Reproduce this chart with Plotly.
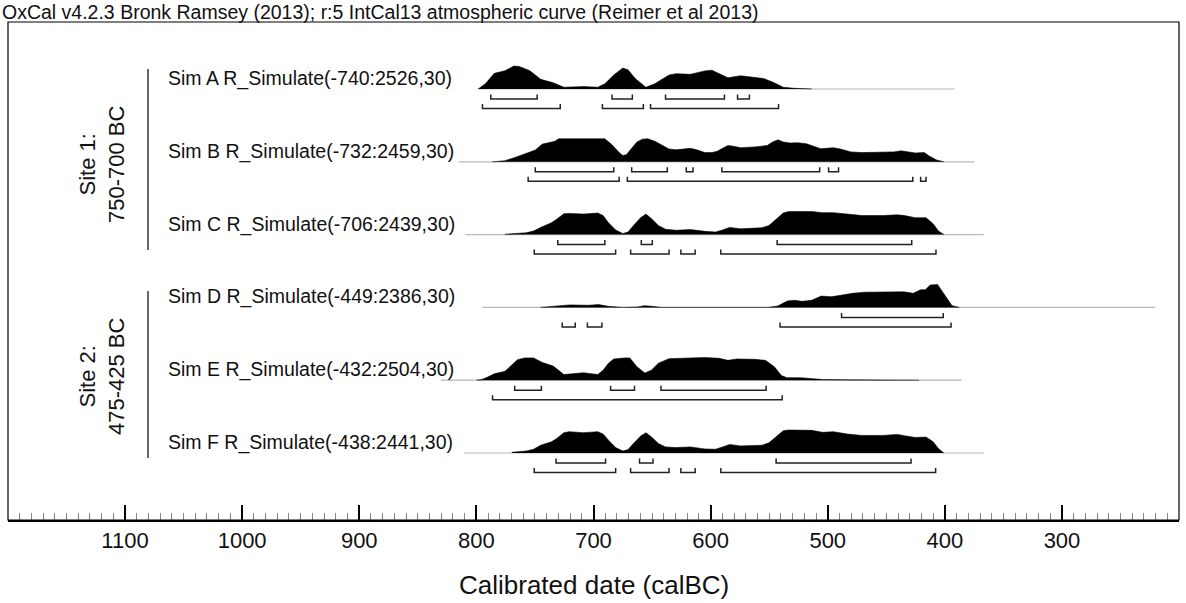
import plotly.graph_objects as go

# ---------------- data (years calBC, relative probability) ----------------
labels = [
    "Sim A R_Simulate(-740:2526,30)",
    "Sim B R_Simulate(-732:2459,30)",
    "Sim C R_Simulate(-706:2439,30)",
    "Sim D R_Simulate(-449:2386,30)",
    "Sim E R_Simulate(-432:2504,30)",
    "Sim F R_Simulate(-438:2441,30)",
]
group_labels = ["Site 1:<br>750-700 BC", "Site 2:<br>475-425 BC"]
title_text = "OxCal v4.2.3 Bronk Ramsey (2013); r:5 IntCal13 atmospheric curve (Reimer et al 2013)"
x_title = "Calibrated date (calBC)"

a_years = [798.4, 792.3, 784.7, 775.6, 768.0, 763.4, 754.3, 745.1, 734.4, 725.3, 717.7, 708.6, 696.4,
           690.3, 682.7, 675.0, 670.5, 664.4, 655.3, 647.7, 635.5, 629.4, 617.2, 605.0, 598.9, 592.8,
           585.2, 574.5, 565.4, 554.7, 547.1, 538.0, 528.8, 519.7, 513.6]
a_prob = [0.0, 0.23, 0.68, 0.79, 1.0, 0.98, 0.79, 0.42, 0.27, 0.076, 0.09, 0.106, 0.076,
          0.227, 0.606, 0.909, 0.833, 0.455, 0.076, 0.227, 0.606, 0.667, 0.636, 0.788, 0.818, 0.682,
          0.485, 0.576, 0.530, 0.455, 0.303, 0.076, 0.03, 0.015, 0.0]
a_r68 = [(787.7, 748.1), (684.2, 666.8), (638.5, 588.2), (577.0, 566.9)]
a_r95 = [(794.8, 728.4), (692.4, 657.4), (651.3, 542.0)]
a_span = (799.0, 391.8)

b_years = [786.2, 775.6, 766.4, 757.3, 749.7, 743.6, 732.9, 729.9, 720.7, 690.3, 684.2, 678.1, 675.0,
           672.0, 667.4, 662.9, 658.3, 653.7, 647.6, 641.5, 635.5, 629.4, 617.2, 611.1, 605.0, 598.9,
           594.3, 589.8, 585.2, 580.6, 574.5, 562.3, 551.7, 547.1, 542.5, 538.0, 531.9, 525.8, 518.2,
           512.1, 506.0, 501.4, 495.3, 489.2, 480.1, 470.9, 452.7, 443.5, 437.4, 432.9, 425.3, 417.6,
           413.1, 407.0, 400.9]
b_prob = [0.0, 0.046, 0.2, 0.354, 0.508, 0.769, 0.892, 1.0, 1.0, 1.0, 0.738, 0.4, 0.277,
          0.308, 0.585, 0.862, 0.985, 1.0, 0.892, 0.738, 0.554, 0.523, 0.585, 0.508, 0.4, 0.4,
          0.462, 0.585, 0.708, 0.677, 0.615, 0.646, 0.708, 0.862, 0.954, 0.862, 0.815, 0.831, 0.785,
          0.677, 0.569, 0.585, 0.615, 0.554, 0.431, 0.4, 0.4, 0.431, 0.477, 0.431, 0.385, 0.4,
          0.246, 0.077, 0.0]
b_r68 = [(749.7, 682.7), (667.4, 637.0), (620.8, 615.0), (590.4, 506.9), (499.3, 490.8)]
b_r95 = [(755.8, 678.1), (671.1, 427.4), (420.7, 416.1)]
b_span = (815.0, 375.0)

c_years = [775.6, 757.3, 751.2, 745.1, 735.9, 731.4, 725.3, 720.7, 708.5, 696.4, 691.8, 687.2, 681.1,
           675.0, 670.5, 665.9, 659.8, 655.2, 650.7, 644.6, 638.5, 629.4, 617.2, 605.0, 595.8, 589.8,
           583.7, 574.5, 556.2, 550.2, 544.1, 538.0, 533.4, 513.6, 504.5, 495.3, 483.2, 470.9, 452.7,
           440.5, 434.4, 425.3, 416.1, 410.0, 405.5, 400.9]
c_prob = [0.016, 0.078, 0.156, 0.3125, 0.516, 0.672, 0.906, 0.922, 0.891, 0.9375, 0.828, 0.516, 0.203,
          0.047, 0.109, 0.391, 0.734, 0.891, 0.703, 0.391, 0.234, 0.1875, 0.219, 0.141, 0.109, 0.203,
          0.3125, 0.25, 0.297, 0.391, 0.672, 0.9375, 1.0, 1.0, 0.953, 0.953, 0.891, 0.828, 0.828,
          0.859, 0.828, 0.734, 0.734, 0.469, 0.156, 0.016]
c_r68 = [(730.5, 690.3), (659.2, 649.8), (543.2, 428.3)]
c_r95 = [(750.6, 681.1), (668.3, 635.5), (625.4, 613.2), (591.3, 407.6)]
c_span = (809.5, 366.8)

d_years = [745.3, 728.8, 720.5, 704.0, 695.7, 687.4, 675.0, 662.6, 656.4, 650.2, 642.0, 551.0, 542.7,
           534.5, 528.3, 522.1, 513.8, 505.5, 497.3, 489.0, 478.7, 468.3, 443.5, 435.3, 427.0, 420.8,
           416.7, 412.5, 406.3, 400.1, 393.9, 387.7]
d_prob = [0.0, 0.062, 0.108, 0.092, 0.123, 0.046, 0.0, 0.015, 0.077, 0.046, 0.0, 0.0, 0.062,
          0.277, 0.308, 0.262, 0.308, 0.492, 0.462, 0.523, 0.615, 0.662, 0.662, 0.677, 0.615, 0.769,
          0.769, 0.969, 1.0, 0.538, 0.077, 0.0]
d_r68 = [(488.2, 401.4)]
d_r95 = [(726.7, 715.6), (705.2, 692.8), (540.7, 394.7)]
d_span = (794.9, 220.3)

e_years = [800.0, 795.4, 790.8, 784.7, 775.6, 769.5, 764.9, 758.8, 751.2, 743.6, 734.4, 725.3, 717.7,
           708.5, 696.4, 691.8, 687.2, 682.7, 673.5, 669.0, 662.9, 656.2, 650.7, 644.6, 635.5, 623.3,
           605.0, 592.8, 585.2, 577.6, 562.3, 553.2, 545.6, 539.5, 534.9, 522.8, 513.6, 504.5, 483.2,
           437.4, 422.2]
e_prob = [0.0, 0.03, 0.123, 0.277, 0.385, 0.662, 0.892, 0.969, 0.969, 0.769, 0.615, 0.246, 0.292,
          0.323, 0.246, 0.431, 0.738, 0.923, 0.969, 0.969, 0.585, 0.308, 0.431, 0.738, 0.938, 0.954,
          0.985, 0.954, 0.862, 0.923, 0.908, 0.862, 0.585, 0.2, 0.108, 0.108, 0.077, 0.03, 0.015,
          0.015, 0.0]
e_r68 = [(767.3, 744.5), (685.4, 665.0), (642.4, 552.6)]
e_r95 = [(786.2, 538.9)]
e_span = (830.4, 385.7)

f_years = [769.5, 757.3, 751.2, 745.1, 735.9, 731.4, 725.3, 720.7, 708.5, 696.4, 691.8, 687.2, 681.1,
           675.0, 670.5, 665.9, 659.8, 655.2, 650.7, 644.6, 638.5, 629.4, 617.2, 605.0, 595.8, 589.8,
           583.7, 574.5, 556.2, 550.2, 544.1, 538.0, 533.4, 513.6, 504.5, 495.3, 483.2, 470.9, 452.7,
           440.5, 434.4, 425.3, 416.1, 410.0, 405.5, 400.9]
f_prob = [0.03, 0.088, 0.162, 0.338, 0.485, 0.632, 0.882, 0.926, 0.882, 0.926, 0.824, 0.559, 0.235,
          0.088, 0.147, 0.412, 0.735, 0.882, 0.706, 0.412, 0.265, 0.235, 0.265, 0.176, 0.162, 0.265,
          0.368, 0.309, 0.338, 0.441, 0.706, 0.971, 1.0, 0.985, 0.897, 0.926, 0.824, 0.765, 0.765,
          0.809, 0.75, 0.676, 0.691, 0.485, 0.191, 0.03]
f_r68 = [(732.0, 689.7), (660.7, 649.2), (544.1, 428.9)]
f_r95 = [(750.6, 681.1), (668.3, 635.5), (625.4, 613.2), (591.3, 407.9)]
f_span = (810.4, 366.8)

major_ticks = [1100, 1000, 900, 800, 700, 600, 500, 400, 300]

# ---------------- geometry / style ----------------
W, H = 1186, 603
ML, MR, MT, MB = 8, 7, 22, 83
PW, PH = W - ML - MR, H - MT - MB
ROW_PX = 72.8          # pixels between rows
BASE0 = 89             # pixel y of first baseline
PEAK = 23 / ROW_PX     # peak height in row units
OFF68, OFF95, TICK = 10 / ROW_PX, 19.5 / ROW_PX, 4.5 / ROW_PX
y_top = -(BASE0 - MT) / ROW_PX
y_bot = (H - MB - BASE0) / ROW_PX
FONT = "Liberation Sans, Arial, sans-serif"

series = [
    (a_years, a_prob, a_r68, a_r95, a_span),
    (b_years, b_prob, b_r68, b_r95, b_span),
    (c_years, c_prob, c_r68, c_r95, c_span),
    (d_years, d_prob, d_r68, d_r95, d_span),
    (e_years, e_prob, e_r68, e_r95, e_span),
    (f_years, f_prob, f_r68, f_r95, f_span),
]

fig = go.Figure()


def bracket_xy(ranges, y0):
    xs, ys = [], []
    for a, b in ranges:
        xs += [a, a, b, b, None]
        ys += [y0 - TICK, y0, y0, y0 - TICK, None]
    return xs, ys


for i, (yrs, prob, r68, r95, span) in enumerate(series):
    fig.add_trace(go.Scatter(x=list(span), y=[i, i], mode="lines",
                             line=dict(color="#b8b8b8", width=1.2),
                             hoverinfo="skip", showlegend=False))
    xs = [yrs[0]] + list(yrs) + [yrs[-1]]
    ys = [i] + [i - p * PEAK for p in prob] + [i]
    fig.add_trace(go.Scatter(x=xs, y=ys, mode="lines", fill="toself",
                             fillcolor="black", line=dict(color="black", width=0.6),
                             hoverinfo="skip", showlegend=False))
    bx, by = bracket_xy(r68, i + OFF68)
    fig.add_trace(go.Scatter(x=bx, y=by, mode="lines",
                             line=dict(color="#222", width=1.5),
                             hoverinfo="skip", showlegend=False))
    bx, by = bracket_xy(r95, i + OFF95)
    fig.add_trace(go.Scatter(x=bx, y=by, mode="lines",
                             line=dict(color="#222", width=1.5),
                             hoverinfo="skip", showlegend=False))

annotations = []
for i, lab in enumerate(labels):
    annotations.append(dict(text=lab, xref="paper", yref="y", x=(166 - ML) / PW, y=i - 10.5 / ROW_PX,
                            xanchor="left", yanchor="middle", showarrow=False,
                            font=dict(family=FONT, size=19.5, color="#111")))

group_y = [(164 - BASE0) / ROW_PX, (376 - BASE0) / ROW_PX]
for gl, gy in zip(group_labels, group_y):
    annotations.append(dict(text=gl, xref="paper", yref="y", x=(102 - ML) / PW, y=gy,
                            textangle=-90, xanchor="center", yanchor="middle", showarrow=False,
                            font=dict(family=FONT, size=22, color="#111")))

annotations.append(dict(text=title_text, xref="paper", yref="paper", x=-ML / PW, y=1 + 9.5 / PH,
                        xanchor="left", yanchor="middle", showarrow=False,
                        font=dict(family=FONT, size=19.5, color="#111")))
annotations.append(dict(text=x_title, xref="paper", yref="paper", x=0.5, y=-(585 - (H - MB)) / PH,
                        xanchor="center", yanchor="middle", showarrow=False,
                        font=dict(family=FONT, size=26, color="#111")))

shapes = [dict(type="rect", xref="paper", yref="paper", x0=0, y0=0, x1=1, y1=1,
               line=dict(color="black", width=1.2))]
group_lines = [(69, 250), (291, 458)]
for y0p, y1p in group_lines:
    shapes.append(dict(type="line", xref="paper", yref="y", x0=(148 - ML) / PW, x1=(148 - ML) / PW,
                       y0=(y0p - BASE0) / ROW_PX, y1=(y1p - BASE0) / ROW_PX,
                       line=dict(color="#666", width=2)))

fig.update_layout(
    width=W, height=H,
    margin=dict(l=ML, r=MR, t=MT, b=MB, pad=0),
    paper_bgcolor="white", plot_bgcolor="white",
    showlegend=False,
    annotations=annotations,
    shapes=shapes,
    xaxis=dict(range=[1199.9, 200.1], tickmode="array", tickvals=major_ticks,
               ticktext=[str(t) for t in major_ticks],
               ticks="inside", ticklen=15, tickwidth=1.5, tickcolor="black",
               showline=True, linewidth=2, linecolor="black",
               showgrid=False, zeroline=False,
               tickfont=dict(family=FONT, size=22, color="#111"),
               minor=dict(tickmode="linear", tick0=0, dtick=10, ticks="inside", ticklen=7,
                          tickwidth=1, tickcolor="#888", showgrid=False)),
    yaxis=dict(range=[y_bot, y_top], showticklabels=False, ticks="", showgrid=False,
               zeroline=False, showline=False),
)

fig.write_html("out.html")
